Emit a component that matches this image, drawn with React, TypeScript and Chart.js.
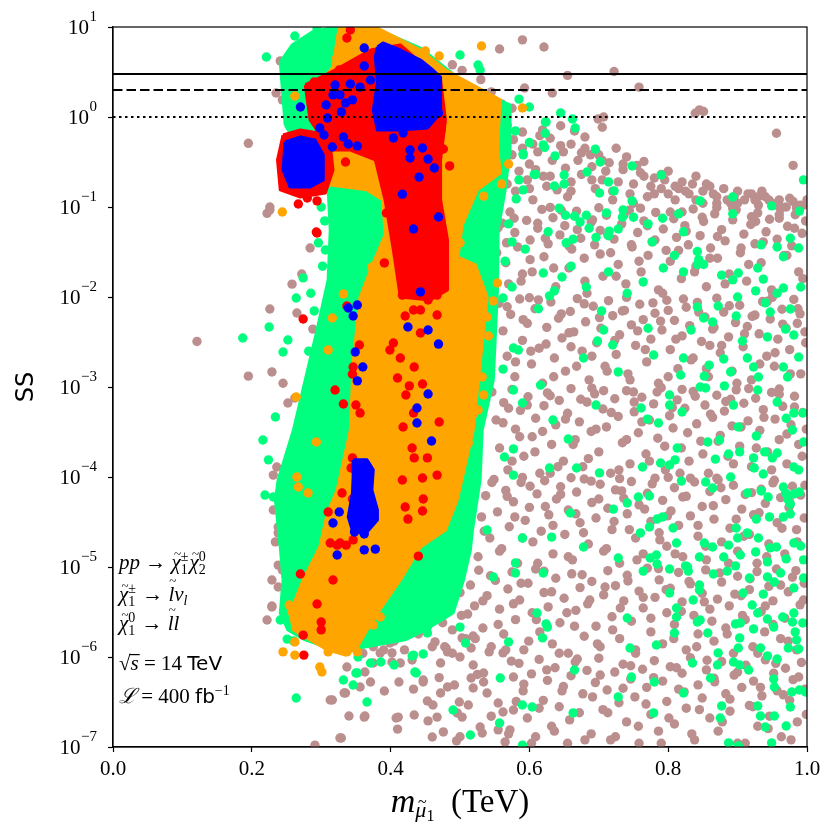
import { useEffect, useRef } from "react";
import { Chart, registerables } from "chart.js";

Chart.register(...registerables);

type Pt = [number, number];

// axes
const xTicks = [0, 0.2, 0.4, 0.6, 0.8, 1.0];
const yTicks = [1e-7, 1e-6, 1e-5, 1e-4, 1e-3, 1e-2, 1e-1, 1, 10];
const yTickExp = ["\u22127", "\u22126", "\u22125", "\u22124", "\u22123", "\u22122", "\u22121", "0", "1"];

// horizontal SS levels: solid, dashed, dotted
const levels = [3, 2, 1];

// dense cores of the point clouds (outlines)
const greenCore: Pt[] = [
  [0.248, 0.815], [0.241, 4.08], [0.258, 6.31], [0.287, 8.8], [0.32, 10], [0.373, 10], [0.443, 5.84],
  [0.515, 2.1], [0.572, 1.36], [0.572, 0.43], [0.565, 0.155], [0.555, 0.0555], [0.554, 0.012],
  [0.548, 1.2e-3], [0.532, 3.33e-4], [0.529, 9.26e-5], [0.518, 2.58e-5], [0.515, 1.55e-5],
  [0.505, 7.17e-6], [0.49, 3.08e-6], [0.45, 2.0e-6], [0.421, 1.55e-6], [0.378, 1.36e-6],
  [0.327, 1.14e-6], [0.277, 1.55e-6], [0.252, 2.0e-6], [0.241, 3.08e-6], [0.245, 7.17e-6],
  [0.241, 1.67e-5], [0.234, 5.55e-5], [0.238, 9.26e-5], [0.26, 3.33e-4], [0.277, 1.2e-3],
  [0.294, 4.3e-3], [0.31, 0.0155], [0.313, 0.0555], [0.31, 0.155], [0.296, 0.258], [0.27, 0.43],
];
const orangeCore: Pt[] = [
  [0.327, 10], [0.378, 10], [0.443, 5.55], [0.479, 3.33], [0.558, 1.55], [0.554, 0.464], [0.558, 0.239],
  [0.525, 0.155], [0.503, 0.063], [0.497, 0.0278], [0.522, 0.0227], [0.539, 0.01], [0.529, 1.85e-3],
  [0.519, 3.33e-4], [0.496, 5.55e-5], [0.479, 2.58e-5], [0.443, 1.67e-5], [0.414, 7.17e-6],
  [0.381, 3.08e-6], [0.366, 2.0e-6], [0.352, 1.29e-6], [0.335, 1.05e-6], [0.309, 1.2e-6],
  [0.26, 2.0e-6], [0.255, 3.08e-6], [0.274, 7.17e-6], [0.298, 1.67e-5], [0.309, 3.98e-5],
  [0.323, 7.17e-5], [0.342, 3.33e-4], [0.346, 1.85e-3], [0.356, 0.01], [0.375, 0.0239],
  [0.392, 0.0489], [0.389, 0.12], [0.366, 0.155], [0.313, 0.176], [0.306, 0.555], [0.28, 1.55],
  [0.317, 3.59], [0.324, 8.15],
];
const redCore: Pt[] = [
  [0.277, 2.27], [0.32, 3.33], [0.371, 5.55], [0.414, 6.31], [0.472, 2.58], [0.479, 0.926], [0.472, 0.333],
  [0.472, 0.12], [0.482, 0.043], [0.482, 0.012], [0.457, 9.26e-3], [0.414, 0.01], [0.404, 0.0333],
  [0.392, 0.12], [0.378, 0.333], [0.342, 0.43], [0.313, 0.43], [0.284, 0.926],
];
const redRing: Pt[] = [
  [0.245, 0.631], [0.27, 0.717], [0.296, 0.664], [0.313, 0.489], [0.317, 0.258], [0.306, 0.143],
  [0.27, 0.129], [0.241, 0.155], [0.237, 0.333],
];
const blueTop: Pt[] = [
  [0.381, 6.0], [0.389, 6.64], [0.414, 5.55], [0.443, 4.3], [0.461, 3.33], [0.472, 2.78], [0.472, 1.2],
  [0.467, 1.0], [0.453, 0.755], [0.414, 0.717], [0.381, 0.717], [0.375, 1.2], [0.381, 2.39], [0.378, 4.64],
];
const blueLeft: Pt[] = [
  [0.248, 0.528], [0.27, 0.6], [0.291, 0.555], [0.303, 0.378], [0.303, 0.2], [0.284, 0.167],
  [0.255, 0.167], [0.245, 0.258],
];
const blueLow: Pt[] = [
  [0.346, 1.55e-4], [0.366, 1.55e-4], [0.375, 1.2e-4], [0.373, 7.17e-5], [0.381, 4.3e-5], [0.381, 3.33e-5],
  [0.366, 2.45e-5], [0.346, 2.39e-5], [0.339, 3.59e-5], [0.345, 6.64e-5], [0.346, 1.0e-4],
];

// individual points
const brownPts: Pt[] = [
  [0.557, 5.7], [0.59, 7.2], [0.621, 6.0], [0.593, 2.1], [0.633, 1.85], [0.655, 2.9], [0.722, 3.2], [0.758, 2.15],
  [0.489, 3.8], [0.503, 3.3], [0.241, 4.2], [0.249, 3.6], [0.235, 1.85], [0.244, 1.55], [0.699, 0.95], [0.707, 1.0],
  [0.705, 0.77], [0.839, 1.1], [0.845, 1.2], [0.851, 1.15], [0.53, 2.6], [0.545, 1.9], [0.56, 1.4], [0.575, 1.25],
  [0.195, 0.51], [0.226, 0.093], [0.222, 0.085], [0.226, 0.1],
  [0.49, 0.9], [0.505, 0.75], [0.52, 0.62], [0.535, 0.8], [0.55, 0.55], [0.525, 0.42], [0.54, 0.35], [0.56, 0.47],
  [0.575, 0.38], [0.568, 0.81], [0.577, 0.56], [0.59, 0.68], [0.605, 0.5], [0.619, 0.72], [0.6, 0.3], [0.612, 0.41],
  [0.63, 0.58], [0.649, 0.41], [0.66, 0.5], [0.597, 0.2], [0.609, 0.26], [0.62, 0.22], [0.585, 0.25], [0.568, 0.18],
  [0.58, 0.15], [0.605, 0.12], [0.64, 0.155], [0.655, 0.13], [0.625, 0.17], [0.67, 0.33], [0.68, 0.45], [0.69, 0.28],
  [0.7, 0.38], [0.705, 0.2], [0.715, 0.31], [0.72, 0.15], [0.735, 0.26], [0.74, 0.36], [0.75, 0.18], [0.76, 0.24],
  [0.77, 0.13], [0.78, 0.21], [0.79, 0.16], [0.8, 0.25], [0.81, 0.12], [0.82, 0.19], [0.83, 0.14], [0.84, 0.22],
  [0.85, 0.11], [0.86, 0.17], [0.87, 0.13], [0.88, 0.16], [0.89, 0.11], [0.9, 0.15], [0.91, 0.12], [0.92, 0.14],
  [0.93, 0.105], [0.94, 0.13], [0.95, 0.11], [0.96, 0.12], [0.97, 0.1], [0.98, 0.115], [0.99, 0.105], [0.956, 0.66],
  [0.98, 0.29], [0.68, 0.6], [0.665, 0.7], [0.645, 0.8], [0.675, 0.23], [0.695, 0.16], [0.66, 0.19], [0.725, 0.45],
  [0.745, 0.14], [0.765, 0.32], [0.8, 0.14], [0.85, 0.15], [0.935, 0.15], [1.0, 0.12], [0.633, 0.33], [0.652, 0.27],
  [0.688, 0.38], [0.71, 0.25], [0.728, 0.19], [0.755, 0.29], [0.775, 0.17], [0.79, 0.23], [0.815, 0.16], [0.835, 0.18],
  [0.865, 0.14], [0.895, 0.13], [0.925, 0.12], [0.955, 0.105],
  [0.541, 0.082], [0.548, 0.047], [0.553, 0.031], [0.561, 0.066], [0.566, 0.024], [0.572, 0.088], [0.579, 0.052],
  [0.583, 0.036], [0.588, 0.015], [0.596, 0.071], [0.601, 0.043], [0.604, 0.019], [0.612, 0.058], [0.618, 0.094],
  [0.621, 0.028], [0.627, 0.039], [0.634, 0.076], [0.638, 0.013], [0.644, 0.049], [0.651, 0.062], [0.657, 0.021],
  [0.661, 0.034], [0.668, 0.09], [0.674, 0.045], [0.679, 0.027], [0.683, 0.011], [0.689, 0.068], [0.694, 0.038],
  [0.702, 0.055], [0.706, 0.017], [0.711, 0.081], [0.717, 0.031], [0.722, 0.044], [0.728, 0.023], [0.733, 0.065],
  [0.739, 0.014], [0.744, 0.092], [0.748, 0.036], [0.756, 0.052], [0.761, 0.019], [0.765, 0.07], [0.771, 0.029],
  [0.777, 0.041], [0.782, 0.087], [0.786, 0.012], [0.793, 0.057], [0.797, 0.033], [0.803, 0.025], [0.808, 0.074],
  [0.812, 0.046], [0.819, 0.016], [0.824, 0.062], [0.829, 0.038], [0.836, 0.095], [0.84, 0.022], [0.846, 0.048],
  [0.851, 0.069], [0.855, 0.013], [0.861, 0.035], [0.867, 0.084], [0.871, 0.027], [0.877, 0.056], [0.882, 0.042],
  [0.888, 0.018], [0.893, 0.072], [0.898, 0.093], [0.904, 0.031], [0.909, 0.05], [0.913, 0.015], [0.919, 0.064],
  [0.925, 0.039], [0.929, 0.086], [0.934, 0.024], [0.941, 0.053], [0.946, 0.073], [0.951, 0.011], [0.957, 0.044],
  [0.962, 0.095], [0.967, 0.029], [0.972, 0.061], [0.978, 0.037], [0.983, 0.082], [0.988, 0.019], [0.993, 0.051],
  [0.998, 0.07], [0.57, 0.014], [0.63, 0.099], [0.7, 0.098], [0.76, 0.097], [0.82, 0.088], [0.87, 0.099],
  [0.92, 0.078], [0.96, 0.075], [0.985, 0.096],
  [0.556, 8.5e-3], [0.562, 4.2e-3], [0.568, 2.2e-3], [0.573, 6.4e-3], [0.579, 1.3e-3], [0.586, 9.5e-3], [0.59, 3.3e-3],
  [0.597, 5.1e-3], [0.603, 1.8e-3], [0.608, 7.4e-3], [0.614, 2.7e-3], [0.619, 1.1e-3], [0.625, 4.6e-3], [0.631, 8.8e-3],
  [0.636, 2.1e-3], [0.642, 5.8e-3], [0.647, 3.5e-3], [0.652, 1.5e-3], [0.659, 6.9e-3], [0.664, 4.1e-3], [0.669, 9.6e-3],
  [0.676, 2.5e-3], [0.681, 5.3e-3], [0.686, 1.2e-3], [0.692, 7.9e-3], [0.697, 3.1e-3], [0.703, 4.5e-3], [0.709, 1.7e-3],
  [0.714, 9.1e-3], [0.72, 6.2e-3], [0.725, 2.3e-3], [0.73, 3.8e-3], [0.737, 7.1e-3], [0.742, 1.4e-3], [0.747, 4.9e-3],
  [0.753, 2.9e-3], [0.759, 8.3e-3], [0.764, 5.6e-3], [0.769, 1.9e-3], [0.775, 3.4e-3], [0.781, 6.6e-3], [0.786, 1.1e-3],
  [0.791, 4.3e-3], [0.798, 9.2e-3], [0.803, 2.6e-3], [0.809, 5.5e-3], [0.814, 1.6e-3], [0.82, 3.7e-3], [0.826, 7.7e-3],
  [0.831, 4.8e-3], [0.836, 2.1e-3], [0.842, 8.7e-3], [0.848, 3.2e-3], [0.853, 6.0e-3], [0.858, 1.3e-3], [0.864, 4.4e-3],
  [0.87, 9.7e-3], [0.875, 2.4e-3], [0.88, 6.8e-3], [0.887, 3.6e-3], [0.892, 1.5e-3], [0.897, 5.2e-3], [0.903, 8.1e-3],
  [0.908, 2.8e-3], [0.914, 4.7e-3], [0.92, 1.2e-3], [0.925, 6.3e-3], [0.931, 3.9e-3], [0.936, 8.9e-3], [0.942, 2.2e-3],
  [0.947, 5.7e-3], [0.953, 1.7e-3], [0.958, 3.4e-3], [0.964, 7.3e-3], [0.97, 4.5e-3], [0.975, 2.6e-3], [0.981, 9.4e-3],
  [0.986, 5.1e-3], [0.991, 1.4e-3], [0.997, 4.1e-3], [0.6, 9.8e-3], [0.66, 2.8e-3], [0.74, 9.9e-3], [0.8, 7.1e-3],
  [0.86, 2.9e-3], [0.95, 9.9e-3], [0.99, 6.5e-3],
  [0.546, 8.8e-4], [0.552, 4.3e-4], [0.557, 2.1e-4], [0.563, 6.7e-4], [0.569, 1.2e-4], [0.575, 9.4e-4], [0.58, 3.4e-4],
  [0.587, 5.5e-4], [0.592, 1.7e-4], [0.598, 7.8e-4], [0.604, 2.8e-4], [0.609, 4.5e-4], [0.615, 1.1e-4], [0.621, 6.2e-4],
  [0.626, 8.6e-4], [0.632, 2.3e-4], [0.638, 3.8e-4], [0.643, 7.1e-4], [0.649, 1.5e-4], [0.655, 5.1e-4], [0.66, 9.6e-4],
  [0.666, 2.6e-4], [0.672, 4.1e-4], [0.677, 1.3e-4], [0.683, 6.8e-4], [0.689, 3.2e-4], [0.694, 8.4e-4], [0.7, 1.9e-4],
  [0.706, 5.7e-4], [0.711, 3.6e-4], [0.717, 1.1e-4], [0.723, 7.4e-4], [0.728, 4.7e-4], [0.734, 2.4e-4], [0.74, 9.1e-4],
  [0.745, 1.4e-4], [0.751, 5.3e-4], [0.757, 3.1e-4], [0.762, 7.7e-4], [0.768, 1.8e-4], [0.773, 4.3e-4], [0.779, 6.5e-4],
  [0.785, 2.7e-4], [0.79, 9.8e-4], [0.796, 1.2e-4], [0.802, 4.8e-4], [0.807, 3.5e-4], [0.813, 7.2e-4], [0.819, 2.1e-4],
  [0.824, 5.8e-4], [0.83, 1.5e-4], [0.836, 8.9e-4], [0.841, 3.9e-4], [0.847, 2.5e-4], [0.853, 6.3e-4], [0.858, 1.1e-4],
  [0.864, 4.6e-4], [0.87, 8.1e-4], [0.875, 2.9e-4], [0.881, 5.4e-4], [0.886, 1.7e-4], [0.892, 3.7e-4], [0.898, 9.3e-4],
  [0.903, 2.2e-4], [0.909, 6.6e-4], [0.915, 4.2e-4], [0.92, 1.3e-4], [0.926, 7.5e-4], [0.932, 3.3e-4], [0.937, 5.6e-4],
  [0.943, 1.9e-4], [0.949, 8.7e-4], [0.954, 4.4e-4], [0.96, 2.6e-4], [0.965, 6.1e-4], [0.971, 1.4e-4], [0.977, 3.8e-4],
  [0.982, 7.9e-4], [0.988, 2.3e-4], [0.994, 5.2e-4], [0.999, 3.4e-4], [0.57, 5.8e-4], [0.63, 1.1e-4], [0.69, 9.7e-4],
  [0.75, 8.8e-4], [0.82, 9.4e-4], [0.89, 7.3e-4], [0.96, 9.5e-4],
  [0.505, 2.2e-5], [0.512, 4.8e-5], [0.52, 8.5e-5], [0.526, 1.3e-5], [0.531, 3.6e-5], [0.537, 6.2e-5], [0.543, 2.1e-5],
  [0.549, 9.4e-5], [0.554, 4.1e-5], [0.56, 1.6e-5], [0.566, 7.1e-5], [0.571, 2.8e-5], [0.577, 5.3e-5], [0.583, 1.1e-5],
  [0.588, 8.7e-5], [0.594, 3.3e-5], [0.6, 4.6e-5], [0.605, 1.9e-5], [0.611, 6.5e-5], [0.617, 2.5e-5], [0.622, 9.1e-5],
  [0.628, 3.8e-5], [0.634, 1.4e-5], [0.639, 5.7e-5], [0.645, 7.8e-5], [0.651, 2.3e-5], [0.656, 4.3e-5], [0.662, 1.2e-5],
  [0.668, 6.8e-5], [0.673, 3.1e-5], [0.679, 9.5e-5], [0.685, 1.8e-5], [0.69, 5.2e-5], [0.696, 3.5e-5], [0.702, 8.3e-5],
  [0.707, 1.5e-5], [0.713, 4.5e-5], [0.719, 2.6e-5], [0.724, 7.2e-5], [0.73, 1.1e-5], [0.736, 5.8e-5], [0.741, 3.9e-5],
  [0.747, 8.9e-5], [0.753, 2.1e-5], [0.758, 4.9e-5], [0.764, 1.4e-5], [0.77, 6.6e-5], [0.775, 3.2e-5], [0.781, 9.7e-5],
  [0.787, 2.4e-5], [0.792, 5.5e-5], [0.798, 1.7e-5], [0.804, 4.2e-5], [0.809, 7.6e-5], [0.815, 2.9e-5], [0.821, 1.3e-5],
  [0.826, 6.1e-5], [0.832, 3.7e-5], [0.838, 8.8e-5], [0.843, 2.2e-5], [0.849, 4.7e-5], [0.855, 1.2e-5], [0.86, 6.9e-5],
  [0.866, 3.4e-5], [0.872, 9.3e-5], [0.877, 1.9e-5], [0.883, 5.6e-5], [0.889, 2.7e-5], [0.894, 8.1e-5], [0.9, 1.5e-5],
  [0.906, 4.4e-5], [0.911, 6.4e-5], [0.917, 2.3e-5], [0.923, 3.8e-5], [0.928, 1.1e-5], [0.934, 7.3e-5], [0.94, 5.1e-5],
  [0.945, 1.8e-5], [0.951, 8.6e-5], [0.957, 3.1e-5], [0.962, 5.9e-5], [0.968, 1.4e-5], [0.974, 4.6e-5], [0.979, 7.9e-5],
  [0.985, 2.6e-5], [0.991, 6.3e-5], [0.996, 3.5e-5], [0.59, 9.9e-5], [0.66, 9.8e-5], [0.73, 9.6e-5], [0.8, 9.9e-5],
  [0.87, 9.7e-5],
  [0.44, 1.8e-6], [0.452, 3.2e-6], [0.46, 1.3e-6], [0.468, 5.5e-6], [0.475, 2.4e-6], [0.483, 4.1e-6], [0.489, 1.1e-6],
  [0.495, 7.8e-6], [0.502, 2.9e-6], [0.508, 1.6e-6], [0.515, 6.3e-6], [0.521, 3.7e-6], [0.527, 9.2e-6], [0.533, 2.1e-6],
  [0.539, 4.8e-6], [0.545, 1.3e-6], [0.551, 7.1e-6], [0.557, 3.4e-6], [0.563, 1.8e-6], [0.569, 5.7e-6], [0.575, 8.8e-6],
  [0.58, 2.6e-6], [0.586, 4.3e-6], [0.592, 1.2e-6], [0.598, 6.6e-6], [0.604, 3.1e-6], [0.609, 9.5e-6], [0.615, 1.9e-6],
  [0.621, 5.2e-6], [0.627, 3.6e-6], [0.633, 1.4e-6], [0.638, 7.5e-6], [0.644, 2.4e-6], [0.65, 4.5e-6], [0.656, 1.1e-6],
  [0.661, 8.4e-6], [0.667, 3.3e-6], [0.673, 5.9e-6], [0.679, 1.7e-6], [0.684, 3.9e-6], [0.69, 6.9e-6], [0.696, 2.2e-6],
  [0.702, 1.3e-6], [0.707, 4.9e-6], [0.713, 9.1e-6], [0.719, 2.8e-6], [0.724, 6.2e-6], [0.73, 1.6e-6], [0.736, 4.2e-6],
  [0.741, 8.1e-6], [0.747, 2.5e-6], [0.753, 1.1e-6], [0.758, 5.4e-6], [0.764, 3.5e-6], [0.77, 9.7e-6], [0.775, 1.9e-6],
  [0.781, 4.6e-6], [0.787, 7.2e-6], [0.792, 1.4e-6], [0.798, 3.1e-6], [0.803, 5.8e-6], [0.809, 2.3e-6], [0.815, 8.7e-6],
  [0.82, 4.1e-6], [0.826, 1.2e-6], [0.832, 6.5e-6], [0.837, 2.9e-6], [0.843, 1.8e-6], [0.849, 5.1e-6], [0.854, 9.3e-6],
  [0.86, 3.4e-6], [0.866, 1.5e-6], [0.871, 4.4e-6], [0.877, 6.8e-6], [0.883, 2.1e-6], [0.888, 3.7e-6], [0.894, 1.1e-6],
  [0.9, 7.9e-6], [0.905, 4.8e-6], [0.911, 2.6e-6], [0.917, 5.6e-6], [0.922, 1.3e-6], [0.928, 8.9e-6], [0.934, 3.2e-6],
  [0.939, 1.9e-6], [0.945, 6.1e-6], [0.951, 4.2e-6], [0.956, 9.5e-6], [0.962, 1.6e-6], [0.968, 2.7e-6], [0.973, 5.3e-6],
  [0.979, 7.7e-6], [0.985, 1.2e-6], [0.99, 3.8e-6], [0.996, 6.6e-6], [0.36, 1.1e-6], [0.375, 1.3e-6], [0.39, 1.2e-6],
  [0.405, 1.5e-6], [0.42, 1.2e-6], [0.43, 2.2e-6],
  [0.585, 8.5e-7], [0.591, 4.2e-7], [0.597, 2.1e-7], [0.603, 6.5e-7], [0.609, 1.3e-7], [0.614, 9.4e-7], [0.62, 3.3e-7],
  [0.626, 5.5e-7], [0.632, 1.7e-7], [0.637, 7.6e-7], [0.643, 2.8e-7], [0.649, 4.7e-7], [0.655, 1.1e-7], [0.66, 6.2e-7],
  [0.666, 8.8e-7], [0.672, 2.4e-7], [0.677, 3.9e-7], [0.683, 7.1e-7], [0.689, 1.4e-7], [0.695, 5.2e-7], [0.7, 9.7e-7],
  [0.706, 2.6e-7], [0.712, 4.3e-7], [0.717, 1.2e-7], [0.723, 6.8e-7], [0.729, 3.1e-7], [0.735, 8.3e-7], [0.74, 1.9e-7],
  [0.746, 5.7e-7], [0.752, 3.6e-7], [0.758, 1.1e-7], [0.763, 7.3e-7], [0.769, 4.6e-7], [0.775, 2.3e-7], [0.78, 9.1e-7],
  [0.786, 1.5e-7], [0.792, 5.4e-7], [0.798, 3.2e-7], [0.803, 7.8e-7], [0.809, 1.8e-7], [0.815, 4.4e-7], [0.82, 6.6e-7],
  [0.826, 2.7e-7], [0.832, 9.8e-7], [0.838, 1.2e-7], [0.843, 4.9e-7], [0.849, 3.5e-7], [0.855, 7.2e-7], [0.86, 2.1e-7],
  [0.866, 5.8e-7], [0.872, 1.5e-7], [0.877, 8.9e-7], [0.883, 3.9e-7], [0.889, 2.5e-7], [0.895, 6.3e-7], [0.9, 1.1e-7],
  [0.906, 4.6e-7], [0.912, 8.1e-7], [0.917, 2.9e-7], [0.923, 5.4e-7], [0.929, 1.7e-7], [0.935, 3.7e-7], [0.94, 9.3e-7],
  [0.946, 2.2e-7], [0.952, 6.6e-7], [0.957, 4.2e-7], [0.963, 1.3e-7], [0.969, 7.5e-7], [0.975, 3.3e-7], [0.98, 5.6e-7],
  [0.986, 1.9e-7], [0.992, 8.7e-7], [0.997, 4.4e-7],
  [0.121, 3.2e-3], [0.195, 1.32e-3], [0.226, 7.36e-3], [0.229, 1.47e-3], [0.258, 0.0139], [0.272, 0.018], [0.284, 0.035],
  [0.265, 6.64e-3], [0.288, 4.4e-3], [0.245, 1.1e-3], [0.262, 7.55e-4], [0.236, 1.29e-4], [0.231, 1.05e-4],
  [0.252, 6.64e-4], [0.234, 1.9e-5], [0.248, 2.45e-5], [0.238, 2.78e-5], [0.231, 4.3e-5], [0.238, 2.39e-5],
  [0.251, 1.14e-5], [0.244, 9.26e-6], [0.238, 6.0e-6], [0.229, 3.69e-6], [0.222, 2.58e-6], [0.251, 7.75e-6],
  [0.281, 1.67e-6], [0.238, 1.05e-5], [0.229, 7.17e-6], [0.229, 3.59e-6], [0.298, 2.15e-6], [0.306, 1.63e-6],
  [0.313, 3.33e-7], [0.327, 1.26e-7], [0.291, 1.05e-7], [0.337, 7.75e-7], [0.335, 3.98e-7], [0.34, 2.21e-7],
  [0.363, 2.21e-7], [0.391, 4.19e-7], [0.408, 2.1e-7], [0.41, 1.58e-7],
  [0.316, 3.33e-7], [0.362, 2.15e-7], [0.329, 1.26e-7], [0.333, 3.98e-7], [0.371, 5.27e-7], [0.412, 5.27e-7],
  [0.433, 4.4e-7], [0.447, 5.27e-7], [0.411, 2.15e-7], [0.434, 2.27e-7], [0.454, 1.95e-7], [0.467, 2.15e-7],
  [0.453, 3.24e-7], [0.461, 2.93e-7], [0.472, 3.98e-7], [0.482, 4.64e-7], [0.492, 4.89e-7], [0.499, 3.16e-7],
  [0.496, 2.39e-7], [0.503, 2.15e-7], [0.476, 1.47e-7], [0.495, 1.17e-7], [0.529, 1.67e-7], [0.532, 1.43e-7],
  [0.512, 2.93e-7], [0.519, 4.53e-7], [0.516, 5.85e-7], [0.534, 5.27e-7], [0.539, 3.98e-7], [0.555, 3.08e-7],
  [0.562, 2.45e-7], [0.577, 2.58e-7], [0.555, 1.55e-7], [0.572, 1.55e-7], [0.565, 1.14e-7], [0.46, 1.29e-7],
  [0.402, 8.8e-7], [0.431, 9.26e-7], [0.472, 8.58e-7], [0.482, 1.14e-6], [0.5, 1.0e-6], [0.519, 8.15e-7],
  [0.534, 6.64e-7], [0.503, 1.63e-6], [0.519, 1.71e-6], [0.542, 1.14e-6], [0.562, 1.11e-6], [0.574, 9.0e-7],
  [0.577, 6.0e-7], [0.516, 1.26e-6], [0.48, 1.26e-6], [0.464, 1.47e-6], [0.447, 5.55e-7], [0.414, 8.58e-7],
  [0.402, 1.11e-6], [0.399, 1.43e-6], [0.385, 1.11e-6], [0.375, 8.58e-7], [0.363, 6.81e-7], [0.356, 4.64e-7],
  [0.306, 1.63e-6],
];

// second pass over the brown field, filling the gaps between the first set
const brownFill: Pt[] = [
  [0.995, 0.105], [0.975, 0.125], [0.945, 0.12], [0.915, 0.14], [0.885, 0.12], [0.855, 0.18], [0.825, 0.15],
  [0.795, 0.2], [0.765, 0.22], [0.735, 0.3], [0.705, 0.33], [0.675, 0.4], [0.645, 0.48], [0.615, 0.62],
  [0.59, 0.45], [0.565, 0.62], [0.545, 0.44], [0.53, 0.3], [0.6, 0.16], [0.63, 0.22], [0.66, 0.15], [0.69, 0.2],
  [0.72, 0.12], [0.75, 0.11], [0.78, 0.14], [0.81, 0.17], [0.84, 0.12], [0.87, 0.11], [0.9, 0.11], [0.93, 0.13],
  [0.96, 0.105], [0.985, 0.1],
  [0.994, 0.016], [0.982, 0.058], [0.971, 0.029], [0.96, 0.082], [0.949, 0.012], [0.937, 0.041], [0.926, 0.069],
  [0.916, 0.023], [0.905, 0.035], [0.893, 0.096], [0.882, 0.014], [0.871, 0.047], [0.86, 0.027], [0.849, 0.077],
  [0.838, 0.019], [0.826, 0.054], [0.815, 0.033], [0.803, 0.088], [0.792, 0.011], [0.781, 0.043], [0.77, 0.062],
  [0.758, 0.025], [0.747, 0.038], [0.736, 0.081], [0.725, 0.017], [0.713, 0.049], [0.702, 0.03], [0.691, 0.072],
  [0.68, 0.015], [0.669, 0.056], [0.657, 0.037], [0.646, 0.092], [0.635, 0.021], [0.623, 0.045], [0.612, 0.066],
  [0.601, 0.026], [0.59, 0.018], [0.578, 0.075], [0.567, 0.04], [0.555, 0.059],
  [0.998, 3.1e-3], [0.987, 7.4e-3], [0.976, 1.4e-3], [0.965, 5.0e-3], [0.954, 2.4e-3], [0.943, 9.0e-3],
  [0.932, 1.8e-3], [0.921, 6.1e-3], [0.91, 3.9e-3], [0.899, 1.1e-3], [0.888, 8.0e-3], [0.877, 2.9e-3],
  [0.866, 4.6e-3], [0.855, 1.6e-3], [0.844, 6.8e-3], [0.833, 2.0e-3], [0.822, 9.5e-3], [0.811, 3.4e-3],
  [0.8, 1.3e-3], [0.789, 5.4e-3], [0.778, 8.6e-3], [0.767, 2.6e-3], [0.756, 4.2e-3], [0.745, 1.2e-3],
  [0.734, 7.0e-3], [0.723, 3.3e-3], [0.712, 1.5e-3], [0.701, 5.9e-3], [0.69, 2.2e-3], [0.679, 8.4e-3],
  [0.668, 1.7e-3], [0.657, 4.0e-3], [0.646, 6.5e-3], [0.635, 1.3e-3], [0.624, 3.0e-3], [0.613, 9.3e-3],
  [0.602, 2.5e-3], [0.591, 5.6e-3], [0.58, 1.9e-3], [0.568, 7.8e-3],
  [0.993, 1.7e-4], [0.982, 6.0e-4], [0.971, 3.0e-4], [0.96, 8.3e-4], [0.949, 1.2e-4], [0.938, 4.6e-4],
  [0.927, 2.1e-4], [0.916, 9.6e-4], [0.905, 3.6e-4], [0.894, 1.4e-4], [0.883, 6.9e-4], [0.872, 2.5e-4],
  [0.861, 5.0e-4], [0.85, 1.8e-4], [0.839, 7.9e-4], [0.828, 3.1e-4], [0.817, 1.1e-4], [0.806, 5.9e-4],
  [0.795, 2.2e-4], [0.784, 8.8e-4], [0.773, 1.5e-4], [0.762, 4.1e-4], [0.751, 6.8e-4], [0.74, 2.6e-4],
  [0.729, 1.2e-4], [0.718, 5.2e-4], [0.707, 9.1e-4], [0.696, 3.4e-4], [0.685, 1.6e-4], [0.674, 7.3e-4],
  [0.663, 2.3e-4], [0.652, 4.4e-4], [0.641, 1.3e-4], [0.63, 8.0e-4], [0.619, 3.2e-4], [0.608, 1.9e-4],
  [0.597, 6.3e-4], [0.586, 2.8e-4], [0.575, 1.5e-4], [0.562, 4.0e-4],
  [0.997, 8.1e-5], [0.986, 1.9e-5], [0.975, 5.3e-5], [0.964, 2.7e-5], [0.953, 9.2e-5], [0.942, 1.3e-5],
  [0.931, 4.0e-5], [0.92, 6.7e-5], [0.909, 2.2e-5], [0.898, 3.4e-5], [0.887, 1.1e-5], [0.876, 7.6e-5],
  [0.865, 4.8e-5], [0.854, 1.7e-5], [0.843, 2.9e-5], [0.832, 9.7e-5], [0.821, 6.0e-5], [0.81, 1.4e-5],
  [0.799, 3.7e-5], [0.788, 2.0e-5], [0.777, 8.4e-5], [0.766, 4.4e-5], [0.755, 1.2e-5], [0.744, 2.6e-5],
  [0.733, 7.0e-5], [0.722, 3.2e-5], [0.711, 1.6e-5], [0.7, 5.7e-5], [0.689, 9.0e-5], [0.678, 2.4e-5],
  [0.667, 3.9e-5], [0.656, 1.3e-5], [0.645, 6.4e-5], [0.634, 2.9e-5], [0.623, 4.7e-5], [0.612, 1.1e-5],
  [0.601, 7.9e-5], [0.59, 2.1e-5], [0.579, 3.6e-5], [0.568, 6.1e-5], [0.557, 1.5e-5], [0.546, 8.7e-5],
  [0.535, 2.5e-5],
  [0.995, 4.3e-6], [0.984, 9.1e-6], [0.973, 1.5e-6], [0.962, 6.3e-6], [0.951, 2.3e-6], [0.94, 3.7e-6],
  [0.929, 1.1e-6], [0.918, 7.4e-6], [0.907, 2.9e-6], [0.896, 5.0e-6], [0.885, 1.8e-6], [0.874, 8.6e-6],
  [0.863, 2.5e-6], [0.852, 4.1e-6], [0.841, 1.3e-6], [0.83, 6.9e-6], [0.819, 3.2e-6], [0.808, 1.6e-6],
  [0.797, 5.6e-6], [0.786, 9.6e-6], [0.775, 2.7e-6], [0.764, 4.6e-6], [0.753, 1.2e-6], [0.742, 7.0e-6],
  [0.731, 3.5e-6], [0.72, 2.0e-6], [0.709, 6.0e-6], [0.698, 1.4e-6], [0.687, 4.3e-6], [0.676, 8.2e-6],
  [0.665, 2.2e-6], [0.654, 3.1e-6], [0.643, 1.1e-6], [0.632, 5.3e-6], [0.621, 9.0e-6], [0.61, 2.6e-6],
  [0.599, 1.5e-6], [0.588, 6.6e-6], [0.577, 3.9e-6], [0.566, 1.2e-6], [0.555, 2.3e-6], [0.544, 8.0e-6],
  [0.533, 4.2e-6], [0.522, 1.6e-6], [0.511, 3.0e-6], [0.5, 5.2e-6], [0.489, 2.0e-6], [0.478, 1.3e-6],
  [0.999, 2.3e-7], [0.988, 6.0e-7], [0.977, 1.2e-7], [0.966, 3.8e-7], [0.955, 8.5e-7], [0.944, 1.6e-7],
  [0.933, 4.6e-7], [0.922, 2.8e-7], [0.911, 1.1e-7], [0.9, 6.8e-7], [0.889, 3.4e-7], [0.878, 1.9e-7],
  [0.867, 5.3e-7], [0.856, 9.2e-7], [0.845, 2.6e-7], [0.834, 1.4e-7], [0.823, 4.1e-7], [0.812, 7.6e-7],
  [0.801, 2.1e-7], [0.79, 1.1e-7], [0.779, 5.9e-7], [0.768, 3.0e-7], [0.757, 1.7e-7], [0.746, 8.0e-7],
  [0.735, 4.5e-7], [0.724, 1.3e-7], [0.713, 2.4e-7], [0.702, 6.3e-7], [0.691, 3.6e-7], [0.68, 1.2e-7],
  [0.669, 9.5e-7], [0.658, 2.0e-7], [0.647, 4.2e-7], [0.636, 1.5e-7], [0.625, 7.2e-7], [0.614, 2.7e-7],
  [0.603, 1.1e-7], [0.592, 5.0e-7], [0.581, 3.2e-7], [0.57, 1.4e-7], [0.545, 2.2e-7], [0.525, 6.4e-7],
  [0.5, 1.3e-7], [0.47, 5.9e-7],
];

const greenPts: Pt[] = [
  [0.221, 4.64], [0.262, 7.94], [0.288, 7.94], [0.294, 9.5], [0.5, 4.89], [0.526, 3.78], [0.529, 3.33],
  [0.585, 1.58], [0.6, 1.29], [0.645, 1.11], [0.662, 0.95], [0.623, 0.88], [0.666, 0.755], [0.623, 0.66],
  [0.622, 0.46], [0.637, 0.37], [0.591, 0.39], [0.609, 0.23], [0.683, 0.245], [0.702, 0.316], [0.695, 0.44],
  [0.65, 0.227], [0.65, 0.18], [0.636, 0.171], [0.714, 0.19], [0.701, 0.143], [0.722, 0.151], [0.748, 0.286],
  [0.79, 0.227], [0.748, 0.117], [0.735, 0.093], [0.734, 0.077], [0.75, 0.077], [0.711, 0.086], [0.682, 0.081],
  [0.665, 0.079], [0.652, 0.081], [0.643, 0.097], [0.686, 0.058], [0.673, 0.068], [0.792, 0.075], [0.815, 0.084],
  [0.846, 0.117], [0.893, 0.129], [0.893, 0.084], [0.949, 0.103], [0.989, 0.09], [0.995, 0.2], [0.771, 0.065],
  [0.715, 0.054], [0.714, 0.048], [0.696, 0.046], [0.627, 0.053], [0.653, 0.04], [0.663, 0.044], [0.728, 0.057],
  [0.777, 0.041], [0.822, 0.053], [0.809, 0.029], [0.842, 0.032], [0.844, 0.026], [0.842, 0.023], [0.851, 0.023],
  [0.934, 0.038], [0.957, 0.036], [0.966, 0.028], [0.976, 0.045], [0.988, 0.035], [0.793, 0.021], [0.822, 0.019],
  [0.764, 0.0147], [0.741, 0.011], [0.704, 7.0e-3], [0.714, 0.019], [0.66, 0.022], [0.647, 0.0167], [0.62, 0.0185],
  [0.629, 0.0103], [0.636, 0.0117], [0.613, 7.4e-3], [0.682, 0.0129], [0.594, 0.034], [0.575, 0.041],
  [0.575, 0.0129], [0.562, 9.75e-3], [0.877, 0.0175], [0.893, 0.0155], [0.901, 0.0185], [0.929, 0.021],
  [0.937, 0.0158], [0.9, 0.01], [0.926, 0.0117], [0.94, 8.6e-3], [0.957, 0.011], [0.966, 0.0126], [0.991, 0.0129],
  [0.842, 7.75e-3], [0.851, 5.85e-3], [0.864, 5.27e-3], [0.872, 7.94e-3], [0.898, 6.15e-3], [0.907, 3.24e-3],
  [0.943, 3.6e-3], [0.969, 4.4e-3], [0.981, 3.78e-3], [0.947, 6.8e-3], [0.976, 7.36e-3], [0.833, 4.3e-3],
  [0.822, 2.1e-3], [0.859, 1.75e-3], [0.88, 2.05e-3], [0.89, 1.47e-3], [0.914, 2.1e-3], [0.923, 1.67e-3],
  [0.93, 1.29e-3], [0.966, 1.67e-3], [0.972, 1.29e-3], [0.988, 2.15e-3], [0.852, 1.32e-3], [0.846, 1.0e-3],
  [0.854, 9.75e-4], [0.881, 1.03e-3], [0.894, 6.3e-4], [0.929, 9.26e-4], [0.957, 6.8e-4], [0.97, 4.5e-4],
  [0.981, 5.14e-4], [0.994, 5.14e-4], [0.82, 5.27e-4], [0.818, 1.36e-3], [0.802, 8.15e-4], [0.802, 6.3e-4],
  [0.786, 3.98e-4], [0.77, 4.4e-4], [0.761, 5.85e-4], [0.779, 2.27e-3], [0.728, 1.47e-3], [0.696, 6.3e-4],
  [0.634, 4.3e-4], [0.616, 1.05e-3], [0.59, 6.64e-4], [0.577, 9.26e-4], [0.577, 2.71e-3], [0.584, 2.58e-3],
  [0.562, 1.58e-3], [0.678, 2.1e-3], [0.72, 2.93e-3], [0.698, 3.24e-3], [0.707, 4.3e-3], [0.771, 4.5e-3],
  [0.656, 2.64e-4], [0.577, 2.05e-4], [0.564, 1.67e-4], [0.629, 1.26e-4], [0.668, 1.26e-4], [0.701, 1.11e-4],
  [0.577, 1.05e-4], [0.763, 1.29e-4], [0.789, 1.43e-4], [0.802, 1.36e-4], [0.813, 2.1e-4], [0.81, 1.55e-4],
  [0.819, 9.0e-5], [0.857, 2.45e-4], [0.874, 2.58e-4], [0.901, 3.6e-4], [0.927, 2.86e-4], [0.979, 3.33e-4],
  [0.995, 2.45e-4], [0.887, 1.8e-4], [0.903, 1.9e-4], [0.923, 1.63e-4], [0.939, 1.9e-4], [0.95, 1.63e-4],
  [0.957, 1.85e-4], [0.981, 1.29e-4], [0.988, 1.2e-4], [0.868, 1.58e-4], [0.854, 8.8e-5], [0.864, 7.55e-5],
  [0.89, 1.0e-4], [0.924, 1.26e-4], [0.937, 1.08e-4], [0.914, 6.64e-5], [0.934, 7.0e-5], [0.944, 6.0e-5],
  [0.966, 7.75e-5], [0.969, 6.64e-5], [0.976, 5.0e-5], [0.981, 6.47e-5], [0.989, 6.8e-5], [0.972, 5.7e-5],
  [0.966, 3.6e-5], [0.976, 3.88e-5], [0.946, 3.6e-5], [0.927, 3.41e-5], [0.898, 2.71e-5], [0.9, 2.1e-5],
  [0.914, 2.39e-5], [0.93, 2.1e-5], [0.956, 1.67e-5], [0.947, 1.63e-5], [0.981, 1.85e-5], [0.991, 1.71e-5],
  [0.97, 1.23e-5], [0.995, 1.2e-5], [0.926, 1.47e-5], [0.943, 1.14e-5], [0.904, 1.36e-5], [0.887, 1.75e-5],
  [0.88, 1.29e-5], [0.864, 1.67e-5], [0.852, 1.85e-5], [0.828, 1.0e-5], [0.845, 1.29e-5], [0.865, 8.36e-6],
  [0.885, 9.0e-6], [0.897, 1.03e-5], [0.917, 7.55e-6], [0.943, 7.75e-6], [0.953, 6.8e-6], [0.962, 8.58e-6],
  [0.981, 5.85e-6], [0.995, 7.55e-6], [0.908, 5.14e-6], [0.937, 5.0e-6], [0.921, 3.78e-6], [0.929, 3.08e-6],
  [0.943, 2.64e-6], [0.952, 2.15e-6], [0.965, 2.78e-6], [0.979, 2.45e-6], [0.981, 3.08e-6], [0.994, 2.39e-6],
  [0.983, 1.9e-6], [0.985, 1.55e-6], [0.973, 1.26e-6], [0.988, 1.23e-6], [0.957, 9.5e-7], [0.943, 1.03e-6],
  [0.933, 1.26e-6], [0.923, 2.05e-6], [0.904, 2.39e-6], [0.897, 2.33e-6], [0.903, 1.63e-6], [0.901, 1.26e-6],
  [0.894, 8.8e-7], [0.903, 8.15e-7], [0.916, 7.17e-7], [0.872, 1.11e-6], [0.871, 8.15e-7], [0.861, 5.85e-7],
  [0.846, 2.58e-6], [0.842, 2.45e-6], [0.857, 1.85e-6], [0.835, 8.58e-7], [0.812, 3.5e-6], [0.812, 2.78e-6],
  [0.809, 1.85e-6], [0.802, 5.14e-6], [0.836, 4.3e-6], [0.741, 2.71e-6], [0.783, 1.36e-6], [0.745, 1.26e-6],
  [0.747, 6.0e-7], [0.78, 5.27e-7], [0.822, 3.98e-7], [0.877, 2.86e-7], [0.875, 2.1e-7], [0.929, 2.86e-7],
  [0.952, 5.7e-7], [0.953, 4.64e-7], [0.933, 2.21e-7], [0.953, 2.21e-7], [0.97, 1.71e-7], [0.978, 4.08e-7],
  [0.989, 4.3e-7], [0.998, 4.08e-7], [0.976, 2.78e-7], [0.94, 1.67e-7], [0.887, 1.11e-7], [0.901, 1.03e-7],
  [0.949, 1.11e-7], [0.728, 3.6e-7], [0.665, 7.17e-7], [0.663, 2.39e-7], [0.604, 2.78e-7], [0.779, 2.39e-7],
  [0.611, 3.08e-6], [0.624, 2.33e-6], [0.62, 8.58e-6], [0.58, 1.11e-5], [0.58, 8.58e-6], [0.59, 2.1e-5],
  [0.632, 2.15e-5], [0.678, 1.67e-5], [0.659, 3.98e-5], [0.57, 1.47e-6], [0.558, 5.85e-7], [0.59, 1.05e-7],
  [0.773, 6.15e-5], [0.757, 6.0e-5], [0.741, 5.14e-5], [0.721, 4.4e-5], [0.784, 3.41e-5], [0.792, 3.6e-5],
  [0.807, 2.71e-5], [0.812, 1.85e-5], [0.76, 2.39e-5], [0.773, 2.78e-5], [0.845, 6.3e-6], [0.845, 5.55e-6],
  [0.784, 1.08e-5], [0.764, 9.0e-6], [0.802, 9.5e-6], [0.825, 1.03e-5], [0.829, 9.0e-6], [0.774, 1.26e-5],
  [0.728, 1.26e-5], [0.783, 1.36e-5],
  [0.264, 3.5e-7], [0.332, 5.55e-7], [0.346, 4.89e-7], [0.352, 6.64e-7], [0.366, 3.16e-7], [0.371, 8.58e-7],
  [0.386, 8.8e-7], [0.405, 8.15e-7], [0.433, 1.05e-6], [0.447, 1.08e-6], [0.437, 6.64e-7], [0.49, 2.58e-7],
  [0.515, 1.36e-7], [0.59, 2.93e-7], [0.619, 1.63e-6], [0.626, 2.15e-6], [0.548, 7.75e-6], [0.539, 2.58e-5],
  [0.5, 2.15e-6], [0.508, 1.43e-6], [0.469, 3.08e-6], [0.453, 2.15e-6], [0.251, 1.36e-5], [0.241, 2.58e-6],
  [0.26, 1.51e-6], [0.251, 1.58e-6], [0.245, 1.85e-5], [0.557, 1.85e-7], [0.435, 6.81e-7], [0.431, 1.03e-6],
  [0.353, 1.0e-6], [0.35, 6.64e-7], [0.453, 1.85e-6],
  [0.187, 3.5e-3], [0.225, 4.64e-3], [0.216, 2.58e-4], [0.224, 1.55e-4], [0.234, 4.64e-4], [0.245, 2.45e-3],
  [0.252, 3.33e-3], [0.264, 9.75e-3], [0.274, 0.0163], [0.306, 0.0333], [0.319, 0.0453], [0.219, 6.3e-5],
  [0.231, 6.0e-5], [0.624, 0.88], [0.591, 0.38], [0.607, 0.23], [0.581, 0.123], [0.591, 0.155], [0.62, 0.49],
  [0.552, 0.093], [0.585, 0.2], [0.6, 0.52], [0.58, 0.7], [0.56, 0.3], [0.57, 0.065], [0.565, 0.025],
  [0.3, 0.1], [0.305, 0.07], [0.296, 0.04], [0.302, 0.022], [0.285, 0.011], [0.29, 7.0e-3], [0.282, 2.5e-3],
];

const orangePts: Pt[] = [
  [0.45, 5.41], [0.47, 4.76], [0.531, 6.15], [0.322, 4.53], [0.262, 1.71], [0.244, 0.088], [0.59, 1.26],
  [0.554, 1.32], [0.534, 0.132], [0.554, 0.0143], [0.548, 9.03e-3], [0.539, 6.0e-3], [0.541, 3.69e-3],
  [0.532, 1.29e-3], [0.534, 8.15e-4], [0.526, 5.55e-4], [0.518, 4.89e-4], [0.512, 2.39e-4], [0.49, 8.58e-5],
  [0.483, 4.76e-5], [0.373, 0.0215], [0.332, 0.0108], [0.316, 5.85e-3], [0.31, 2.58e-3], [0.293, 2.45e-4],
  [0.264, 7.75e-4], [0.265, 1.0e-4], [0.281, 6.64e-5], [0.267, 7.75e-5], [0.245, 1.14e-6], [0.262, 1.05e-6],
  [0.298, 7.75e-7], [0.301, 6.81e-7], [0.31, 1.14e-6], [0.323, 1.29e-6], [0.337, 1.14e-6], [0.352, 1.14e-6],
  [0.262, 1.47e-6], [0.254, 3.78e-6], [0.258, 3.16e-6], [0.27, 3.59e-6], [0.281, 2.71e-6], [0.284, 2.0e-6],
  [0.385, 2.78e-6], [0.375, 2.27e-6], [0.57, 0.3], [0.56, 0.18], [0.5, 0.04], [0.51, 0.02],
];

const redPts: Pt[] = [
  [0.342, 9.26], [0.337, 7.55], [0.29, 2.45], [0.326, 3.33], [0.267, 0.108], [0.28, 0.126], [0.294, 0.117],
  [0.293, 0.0527], [0.394, 0.0858], [0.386, 0.308], [0.399, 0.301], [0.485, 0.286], [0.476, 0.441], [0.473, 0.717],
  [0.335, 0.316], [0.404, 0.143], [0.46, 0.147], [0.457, 0.1], [0.294, 0.0514], [0.391, 0.0239], [0.274, 5.7e-3],
  [0.337, 7.94e-3], [0.355, 2.93e-3], [0.346, 1.67e-3], [0.345, 1.39e-3], [0.32, 9.26e-4], [0.332, 6.47e-4],
  [0.35, 6.31e-4], [0.356, 5.14e-4], [0.404, 3.08e-3], [0.399, 2.58e-3], [0.414, 2.1e-3], [0.434, 1.67e-3],
  [0.41, 1.26e-3], [0.427, 1.03e-3], [0.446, 1.08e-3], [0.422, 8.15e-4], [0.433, 5.14e-4], [0.418, 3.59e-4],
  [0.47, 4.08e-4], [0.431, 2.1e-4], [0.434, 1.63e-4], [0.453, 1.63e-4], [0.417, 9.26e-5], [0.446, 9.75e-5],
  [0.467, 1.05e-4], [0.447, 5.7e-5], [0.421, 4.64e-5], [0.425, 3.41e-5], [0.446, 4.19e-5], [0.31, 4.08e-5],
  [0.345, 1.63e-4], [0.343, 1.26e-4], [0.345, 5.7e-5], [0.323, 1.75e-5], [0.336, 1.75e-5], [0.417, 0.0105],
  [0.433, 7.17e-3], [0.443, 7.17e-3], [0.454, 9.26e-3], [0.467, 6.31e-3], [0.421, 6.15e-3], [0.443, 3.98e-3],
  [0.467, 0.0105], [0.33, 6.64e-5], [0.327, 1.85e-5], [0.313, 1.85e-5], [0.27, 8.36e-6], [0.317, 7.17e-6],
  [0.44, 1.32e-5], [0.294, 3.88e-6], [0.3, 2.45e-6], [0.3, 2.0e-6], [0.274, 1.75e-6], [0.275, 1.05e-6],
  [0.346, 2.0e-5], [0.255, 0.33], [0.25, 0.2], [0.31, 0.25],
];

const bluePts: Pt[] = [
  [0.362, 5.84], [0.362, 3.69], [0.32, 2.27], [0.342, 2.33], [0.356, 2.15], [0.371, 2.58], [0.27, 1.29],
  [0.307, 1.36], [0.317, 1.76], [0.327, 1.76], [0.335, 1.43], [0.345, 1.55], [0.329, 1.14], [0.309, 0.975],
  [0.298, 0.755], [0.304, 0.631], [0.316, 0.464], [0.332, 0.6], [0.339, 0.501], [0.352, 0.476], [0.404, 0.585],
  [0.418, 0.664], [0.428, 0.43], [0.428, 0.35], [0.446, 0.453], [0.454, 0.341], [0.463, 0.271], [0.441, 0.215],
  [0.417, 0.139], [0.469, 0.0774], [0.433, 0.057], [0.467, 1.63], [0.469, 1.11], [0.443, 0.0114],
  [0.425, 4.64e-3], [0.454, 4.3e-3], [0.469, 3.0e-3], [0.339, 7.55e-3], [0.352, 8.15e-3], [0.346, 6.15e-3],
  [0.349, 2.45e-3], [0.36, 1.67e-3], [0.352, 1.17e-3], [0.454, 8.36e-4], [0.438, 5.85e-4], [0.438, 3.98e-4],
  [0.459, 2.51e-4], [0.326, 4.08e-5], [0.317, 3.08e-5], [0.323, 1.36e-5], [0.362, 1.55e-5], [0.378, 1.58e-5],
  [0.348, 2.45e-5], [0.362, 2.33e-5],
];

// annotation text, line by line
type Run =
  | { t: string; f: string; dy?: number; over?: boolean; tilde?: number; tf?: string }
  | { sup: string; sub: string; f: string };
const LS = "'Liberation Serif'";
const MI = `italic 21px ${LS}`;
const RM = `21px ${LS}`;
const SM = `14px ${LS}`;
const SMI = `italic 14px ${LS}`;
const SF = "20px 'DejaVu Sans'";
const REL = " \u2192 ";
const EQ = " = ";
const procLines: Run[][] = [
  [{ t: "pp", f: MI }, { t: REL, f: RM }, { t: "\u03c7", f: MI, tilde: -11 }, { sup: "\u00b1", sub: "1", f: SM },
   { t: "\u03c7", f: MI, tilde: -11 }, { sup: "0", sub: "2", f: SM }],
  [{ t: "\u03c7", f: MI, tilde: -11 }, { sup: "\u00b1", sub: "1", f: SM }, { t: REL, f: RM },
   { t: "l", f: MI, tilde: -16 }, { t: "\u03bd", f: MI }, { t: "l", f: SMI, dy: 4 }],
  [{ t: "\u03c7", f: MI, tilde: -11 }, { sup: "0", sub: "1", f: SM }, { t: REL, f: RM },
   { t: "l", f: MI, tilde: -16 }, { t: "l", f: MI }],
  [{ t: "\u221a", f: RM }, { t: "s", f: MI, over: true }, { t: EQ, f: RM }, { t: "14 ", f: RM }, { t: "TeV", f: SF }],
  [{ t: "\u2112", f: MI }, { t: EQ, f: RM }, { t: "400 ", f: RM }, { t: "fb", f: SF }, { t: "\u22121", f: SM, dy: -8 }],
];
const xTitle: Run[] = [
  { t: "m", f: `italic 34px ${LS}` },
  { t: "\u03bc", f: `italic 22px ${LS}`, dy: 5, tilde: -10, tf: `16px ${LS}` },
  { t: "1", f: `16px ${LS}`, dy: 9 },
  { t: "\u2002(TeV)", f: `33px ${LS}` },
];

function drawRuns(ctx: CanvasRenderingContext2D, x: number, y: number, runs: Run[], paint = true) {
  let cx = x;
  for (const r of runs) {
    ctx.font = r.f;
    if ("sup" in r) {
      const w = Math.max(ctx.measureText(r.sup).width, ctx.measureText(r.sub).width);
      if (paint) {
        ctx.fillText(r.sup, cx, y - 8);
        ctx.fillText(r.sub, cx, y + 5);
      }
      cx += w + 1;
    } else {
      const by = y + (r.dy || 0);
      const w = ctx.measureText(r.t).width;
      if (paint) {
        ctx.fillText(r.t, cx, by);
        if (r.over) ctx.fillRect(cx - 1, y - 16, w + 2, 1.2);
        if (r.tilde !== undefined) {
          ctx.font = r.tf || `13px ${LS}`;
          const tw = ctx.measureText("~").width;
          ctx.fillText("~", cx + w / 2 - tw / 2 + 1.5, by + r.tilde);
        }
      }
      cx += w;
    }
  }
  return cx - x;
}

const decor = {
  id: "decor",
  afterDraw(chart: any) {
    const { ctx, chartArea: a, scales } = chart;
    ctx.save();
    ctx.strokeStyle = "#000";
    ctx.lineWidth = 1.2;
    ctx.strokeRect(a.left, a.top, a.right - a.left, a.bottom - a.top);
    ctx.fillStyle = "#000";
    ctx.textBaseline = "alphabetic";
    // y tick labels 10^n
    yTicks.forEach((v, i) => {
      const py = scales.y.getPixelForValue(v);
      const right = a.left - 16;
      ctx.font = `15px ${LS}`;
      const e = yTickExp[i];
      const ew = ctx.measureText(e).width;
      ctx.textAlign = "left";
      ctx.fillText(e, right - ew, py - 6);
      ctx.font = `21px ${LS}`;
      ctx.textAlign = "right";
      ctx.fillText("10", right - ew - 0.5, py + 7);
    });
    ctx.textAlign = "left";
    // x title
    const tw = drawRuns(ctx, 0, 0, xTitle, false);
    drawRuns(ctx, (a.left + a.right) / 2 - tw / 2, 812, xTitle);
    // y title
    ctx.save();
    ctx.translate(33, (a.top + a.bottom) / 2);
    ctx.rotate(-Math.PI / 2);
    ctx.textAlign = "center";
    ctx.font = "24px 'DejaVu Sans'";
    ctx.fillText("SS", 0, 0);
    ctx.restore();
    // process annotation
    const base = [569, 601, 630, 670, 703];
    procLines.forEach((runs, i) => drawRuns(ctx, a.left + 6, base[i], runs));
    ctx.restore();
  },
};

const BROWN = "#bc8f8f";
const GREEN = "#00ff7f";
const ORANGE = "#ffa500";
const RED = "#ff0000";
const BLUE = "#0000ff";

const toXY = (pts: Pt[]) => pts.map(([x, y]) => ({ x, y }));
const cloud = (pts: Pt[], color: string, order: number) => ({
  data: toXY(pts), showLine: false, pointRadius: 4.7, pointBorderWidth: 0,
  pointBackgroundColor: color, backgroundColor: color, order, clip: 0,
});
const core = (pts: Pt[], color: string, order: number) => ({
  data: toXY([...pts, pts[0]]), showLine: true, fill: "shape", tension: 0,
  backgroundColor: color, borderColor: color, borderWidth: 3, borderJoinStyle: "round",
  pointRadius: 0, order, clip: 0,
});
const level = (y: number, dash: number[]) => ({
  data: [{ x: 0, y }, { x: 1, y }], showLine: true, borderColor: "#000", borderWidth: 2,
  borderDash: dash, pointRadius: 0, order: 0, clip: 0, fill: false,
});

export default function App() {
  const canvasRef = useRef<HTMLCanvasElement | null>(null);

  useEffect(() => {
    const ctx = canvasRef.current?.getContext("2d");
    if (!ctx) return;
    const chart = new Chart(ctx, {
      type: "scatter",
      data: {
        datasets: [
          level(levels[0], []),
          level(levels[1], [9.5, 4]),
          level(levels[2], [2.5, 3.5]),
          cloud(bluePts, BLUE, 2),
          core(blueTop, BLUE, 3),
          core(blueLeft, BLUE, 3),
          core(blueLow, BLUE, 3),
          cloud(redPts, RED, 4),
          core(redCore, RED, 5),
          core(redRing, RED, 5),
          cloud(orangePts, ORANGE, 6),
          core(orangeCore, ORANGE, 7),
          cloud(greenPts, GREEN, 8),
          core(greenCore, GREEN, 9),
          cloud([...brownPts, ...brownFill], BROWN, 10),
        ] as any,
      },
      options: {
        animation: false,
        responsive: false,
        events: [],
        layout: { padding: { top: 27, right: 33, left: 0, bottom: 0 } },
        plugins: { legend: { display: false }, tooltip: { enabled: false } },
        scales: {
          x: {
            type: "linear",
            min: 0,
            max: 1,
            afterBuildTicks: (s: any) => { s.ticks = xTicks.map((value) => ({ value })); },
            afterFit: (s: any) => { s.height = 93; },
            ticks: {
              callback: (v: any) => Number(v).toFixed(1),
              font: { family: "'Liberation Serif', serif", size: 21 },
              color: "#000",
              padding: 5,
              maxRotation: 0,
            },
            grid: { drawOnChartArea: false, drawTicks: true, tickLength: 5, tickColor: "#000", tickWidth: 1.2 },
            border: { color: "#000", width: 1.2 },
          },
          y: {
            type: "logarithmic",
            min: 1e-7,
            max: 10,
            afterBuildTicks: (s: any) => { s.ticks = yTicks.map((value) => ({ value })); },
            afterFit: (s: any) => { s.width = 113; },
            ticks: { callback: () => "", padding: 0 },
            grid: { drawOnChartArea: false, drawTicks: true, tickLength: 5, tickColor: "#000", tickWidth: 1.2 },
            border: { color: "#000", width: 1.2 },
          },
        },
      } as any,
      plugins: [decor],
    });
    return () => chart.destroy();
  }, []);

  return (
    <div style={{ position: "absolute", left: 0, top: 0, width: 840, height: 840, background: "#fff" }}>
      <canvas ref={canvasRef} width={840} height={840} />
    </div>
  );
}
